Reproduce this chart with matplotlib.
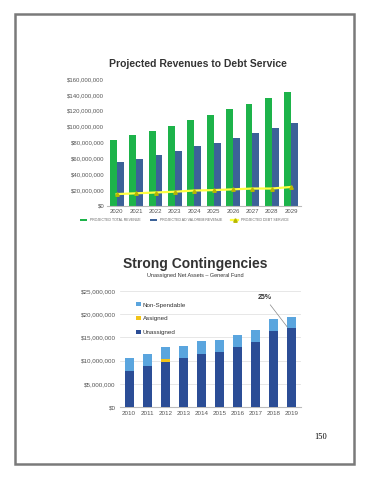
import matplotlib.pyplot as plt
import numpy as np
from matplotlib.patches import Rectangle

# chart 1 data ($ millions)
years1 = ['2020', '2021', '2022', '2023', '2024', '2025', '2026', '2027', '2028', '2029']
total_rev = [83, 89, 95, 101, 108, 115, 122, 129, 136, 143]
adval_rev = [55, 59, 64, 69, 75, 80, 86, 92, 98, 104]
debt_service = [15, 16, 17, 18, 19.5, 20, 21, 22, 22, 24]

# chart 2 data ($ millions)
years2 = ['2010', '2011', '2012', '2013', '2014', '2015', '2016', '2017', '2018', '2019']
unassigned = [7.8, 8.9, 9.7, 10.5, 11.5, 11.8, 13.0, 14.1, 16.3, 17.0]
assigned = [0, 0, 0.7, 0, 0, 0, 0, 0, 0, 0]
nonspend = [2.7, 2.6, 2.6, 2.6, 2.7, 2.7, 2.5, 2.6, 2.7, 2.5]

W, H = 370, 480
fig = plt.figure(figsize=(W/100, H/100), dpi=100)
plt.rcParams['font.family'] = 'Liberation Sans'

def ax_px(x0, y0, x1, y1):
    return fig.add_axes([x0/W, 1-y1/H, (x1-x0)/W, (y1-y0)/H])

# page frame
fig.patches.append(Rectangle((15/W, 1-464/H), 339/W, 450/H, transform=fig.transFigure,
                             fill=False, edgecolor='#7A7A7A', linewidth=1.8))
fig.text(321/W, 1-437/H, '150', fontsize=6, family='Liberation Serif', ha='center', va='center')

# ---- chart 1
ax1 = ax_px(107, 79, 301, 206)
x = np.arange(len(years1))
w = 0.36
ax1.bar(x-w/2, [v*1e6 for v in total_rev], w, color='#1DB34A', label='PROJECTED TOTAL REVENUE')
ax1.bar(x+w/2, [v*1e6 for v in adval_rev], w, color='#3C6298', label='PROJECTED AD VALOREM REVENUE')
ax1.plot(x, [v*1e6 for v in debt_service], color='#FFFF40', lw=1.6, marker='^', ms=2.5,
         mfc='#B8B800', mec='#B8B800', label='PROJECTED DEBT SERVICE')
ax1.set_ylim(0, 160e6)
ax1.set_xlim(-0.5, len(years1)-0.5)
ax1.set_yticks(np.arange(0, 161e6, 20e6))
ax1.set_yticklabels(['$0'] + ['${:,.0f}'.format(v) for v in np.arange(20e6, 161e6, 20e6)])
ax1.set_xticks(x)
ax1.set_xticklabels(years1)
ax1.tick_params(labelsize=4.3, colors='#555555', length=0, pad=2)
for s in ['top', 'right', 'left']:
    ax1.spines[s].set_visible(False)
ax1.spines['bottom'].set_color('#BBBBBB')
fig.text(198/W, 1-64/H, 'Projected Revenues to Debt Service', fontsize=7.5, fontweight='bold',
         color='#333333', ha='center', va='center')
h1, l1 = ax1.get_legend_handles_labels()
ax1.legend([h1[1], h1[2], h1[0]], [l1[1], l1[2], l1[0]], loc='upper center',
           bbox_to_anchor=(0.40, -0.07), ncol=3, frameon=False, fontsize=2.5,
           handlelength=2, columnspacing=2.6, labelcolor='#666666')

# ---- chart 2
ax2 = ax_px(120, 291, 301, 407)
x2 = np.arange(len(years2))
bot2 = np.array(unassigned) + np.array(assigned)
bw = 0.5
ax2.bar(x2, [v*1e6 for v in unassigned], bw, color='#2B4D96', label='Unassigned', zorder=3)
ax2.bar(x2, [v*1e6 for v in assigned], bw, bottom=[v*1e6 for v in unassigned], color='#F2C318',
        label='Assigned', zorder=3)
ax2.bar(x2, [v*1e6 for v in nonspend], bw, bottom=bot2*1e6, color='#5AA5DE',
        label='Non-Spendable', zorder=3)
ax2.set_ylim(0, 25e6)
ax2.set_xlim(-0.5, len(years2)-0.5)
ax2.set_yticks(np.arange(0, 26e6, 5e6))
ax2.set_yticklabels(['$0'] + ['${:,.0f}'.format(v) for v in np.arange(5e6, 26e6, 5e6)])
ax2.set_xticks(x2)
ax2.set_xticklabels(years2)
ax2.tick_params(labelsize=4.5, colors='#555555', length=0, pad=3)
ax2.grid(axis='y', color='#DDDDDD', lw=0.5, zorder=0)
for s in ['top', 'right', 'left']:
    ax2.spines[s].set_visible(False)
ax2.spines['bottom'].set_color('#BBBBBB')
h, l = ax2.get_legend_handles_labels()
ax2.legend(h[::-1], l[::-1], loc='upper left', bbox_to_anchor=(0.06, 0.95), frameon=False,
           fontsize=4.5, handlelength=0.8, handleheight=0.6, labelspacing=1.35, handletextpad=0.2,
           labelcolor='#333333')
ax2.annotate('25%', xy=(9-0.25, 17.2e6), xytext=(7.1, 23.3e6), fontsize=5, fontweight='bold',
             color='#333333', arrowprops=dict(arrowstyle='-', color='#888888', lw=0.5,
                                              shrinkA=1, shrinkB=0))
fig.text(195/W, 1-264/H, 'Strong Contingencies', fontsize=10, fontweight='bold',
         color='#333333', ha='center', va='center')
fig.text(195/W, 1-275/H, 'Unassigned Net Assets \u2013 General Fund', fontsize=4,
         color='#333333', ha='center', va='center')

fig.savefig('out.png', dpi=100)
